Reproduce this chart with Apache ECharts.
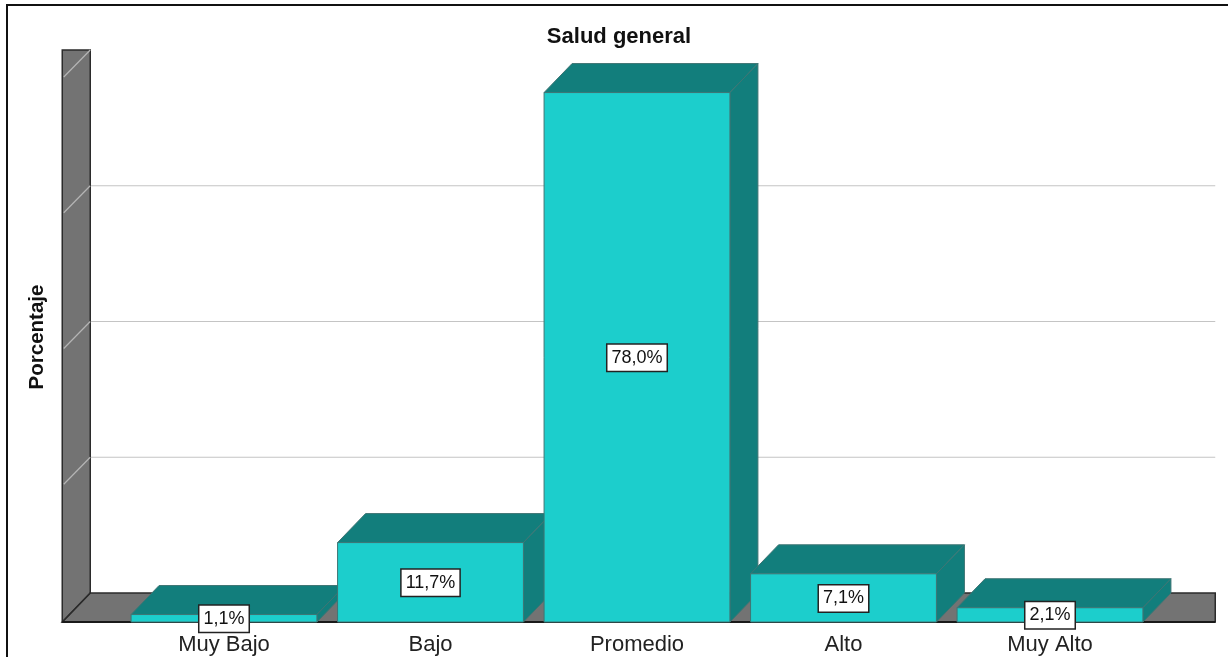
<!DOCTYPE html>
<html>
<head>
<meta charset="utf-8">
<title>Salud general</title>
<script src="https://cdn.jsdelivr.net/npm/echarts@6/dist/echarts.min.js"></script>
<style>
  html, body { margin: 0; padding: 0; background: #ffffff; }
  #chart { width: 1228px; height: 657px; }
</style>
</head>
<body>
<div id="chart"></div>
<script>
// ---- data ----
const categories = ['Muy Bajo', 'Bajo', 'Promedio', 'Alto', 'Muy Alto'];
const percentages = [1.1, 11.7, 78.0, 7.1, 2.1];
const yTicks = [0, 20, 40, 60, 80];

// ---- style ----
const FONT = '"Liberation Sans", Arial, sans-serif';
const DEPTH_X = 28;       // oblique depth of the 3D box, px
const DEPTH_Y = -29;
const BAR_RATIO = 0.9;    // bar width as a share of its category band
const FRONT = '#1ccecc';
const SHADE = '#127e7c';
const EDGE = '#3e7574';
const WALL = '#737373';
const WALL_EDGE = '#2b2b2b';
const GRID_LINE = '#c4c4c4';
const WALL_LEFT_GAP = 58.5;   // left wall front edge, left of the plot
const FLOOR_RIGHT_GAP = 62;   // floor end, right of the plot

const fmt = v => v.toFixed(1).replace('.', ',') + '%';

// wall, floor and back gridlines, positioned from the value axis
function renderBackdrop(params, api) {
  const cs = params.coordSys;
  const wallFront = cs.x - WALL_LEFT_GAP;
  const wallBack = wallFront + DEPTH_X;
  const floorRight = cs.x + cs.width + FLOOR_RIGHT_GAP;
  const base = api.coord([0, yTicks[0]])[1];
  const topBack = api.coord([0, yTicks[yTicks.length - 1]])[1] + DEPTH_Y;
  const children = [];

  // back-wall gridlines
  yTicks.slice(1, -1).forEach(t => {
    const yb = api.coord([0, t])[1] + DEPTH_Y;
    children.push({
      type: 'line',
      shape: { x1: wallBack, y1: yb, x2: floorRight, y2: yb },
      style: { stroke: GRID_LINE, lineWidth: 1.2 }
    });
  });

  // left wall
  children.push({
    type: 'rect',
    shape: { x: wallFront, y: topBack, width: DEPTH_X, height: base - topBack },
    style: { fill: WALL, stroke: WALL_EDGE, lineWidth: 1.5 }
  });
  yTicks.slice(1).forEach(t => {
    const yb = api.coord([0, t])[1] + DEPTH_Y;
    children.push({
      type: 'line',
      shape: { x1: wallBack, y1: yb, x2: wallFront + 1.5, y2: yb - DEPTH_Y - 2 },
      style: { stroke: '#b5b5b5', lineWidth: 1.2 }
    });
  });

  // floor
  children.push({
    type: 'polygon',
    shape: { points: [
      [wallFront, base], [floorRight, base],
      [floorRight, base + DEPTH_Y], [wallBack, base + DEPTH_Y]
    ] },
    style: { fill: WALL, stroke: WALL_EDGE, lineWidth: 1.5 }
  });
  children.push({
    type: 'line',
    shape: { x1: wallBack, y1: base + DEPTH_Y, x2: wallFront, y2: base },
    style: { stroke: WALL_EDGE, lineWidth: 1.2 }
  });
  children.push({
    type: 'line',
    shape: { x1: wallFront, y1: base, x2: floorRight, y2: base },
    style: { stroke: '#1a1a1a', lineWidth: 2 }
  });
  return { type: 'group', children };
}

// one oblique box per category
function renderBar(params, api) {
  const i = api.value(0);
  const v = api.value(1);
  const base = api.coord([i, 0]);
  const top = api.coord([i, v]);
  const bw = api.size([1, 0])[0] * BAR_RATIO;
  const x0 = base[0] - bw / 2;
  const x1 = base[0] + bw / 2;
  const y0 = base[1];
  const y1 = top[1];
  return {
    type: 'group',
    children: [
      {
        type: 'polygon',
        shape: { points: [[x0, y1], [x1, y1], [x1 + DEPTH_X, y1 + DEPTH_Y], [x0 + DEPTH_X, y1 + DEPTH_Y]] },
        style: { fill: SHADE, stroke: EDGE, lineWidth: 1 }
      },
      {
        type: 'polygon',
        shape: { points: [[x1, y0], [x1, y1], [x1 + DEPTH_X, y1 + DEPTH_Y], [x1 + DEPTH_X, y0 + DEPTH_Y]] },
        style: { fill: SHADE, stroke: EDGE, lineWidth: 1 }
      },
      {
        type: 'rect',
        shape: { x: x0, y: y1, width: bw, height: y0 - y1 },
        style: { fill: FRONT, stroke: EDGE, lineWidth: 1 }
      },
      {
        type: 'text',
        z2: 100,
        x: base[0],
        y: (y0 + y1) / 2 + 0.5,
        style: {
          text: fmt(v),
          fontFamily: FONT,
          fontSize: 18,
          fill: '#111111',
          align: 'center',
          verticalAlign: 'middle',
          backgroundColor: '#ffffff',
          borderColor: '#222222',
          borderWidth: 1.5,
          padding: [4, 4, 4, 4]
        }
      }
    ]
  };
}

const chart = echarts.init(document.getElementById('chart'), null, { renderer: 'canvas' });
chart.setOption({
  backgroundColor: '#ffffff',
  animation: false,
  title: {
    text: 'Salud general',
    left: 614,
    top: 21,
    textAlign: 'center',
    textStyle: { fontFamily: FONT, fontSize: 22, fontWeight: 'bold', color: '#111111' }
  },
  grid: { left: 120.75, right: 74.75, top: 79, bottom: 35, containLabel: false },
  xAxis: {
    type: 'category',
    data: categories,
    axisLine: { show: false },
    axisTick: { show: false },
    splitLine: { show: false },
    axisLabel: { fontFamily: FONT, fontSize: 22, color: '#222222', margin: 12 }
  },
  yAxis: {
    type: 'value',
    min: yTicks[0],
    max: yTicks[yTicks.length - 1],
    interval: 20,
    axisLine: { show: false },
    axisTick: { show: false },
    axisLabel: { show: false },
    splitLine: { show: false }
  },
  graphic: [
    {
      type: 'rect',
      shape: { x: 7, y: 5, width: 1240, height: 700 },
      style: { fill: 'none', stroke: '#111111', lineWidth: 2 },
      silent: true
    },
    {
      type: 'text',
      x: 37,
      y: 337,
      rotation: Math.PI / 2,
      style: {
        text: 'Porcentaje',
        fontFamily: FONT,
        fontSize: 20.5,
        fontWeight: 'bold',
        fill: '#111111',
        align: 'center',
        verticalAlign: 'middle'
      },
      silent: true
    }
  ],
  series: [
    {
      type: 'custom',
      name: 'backdrop',
      data: [[0, 0]],
      encode: { x: 0, y: 1 },
      renderItem: renderBackdrop,
      silent: true,
      z: 1
    },
    {
      type: 'custom',
      name: 'Porcentaje',
      data: percentages.map((v, i) => [i, v]),
      encode: { x: 0, y: 1 },
      renderItem: renderBar,
      z: 2
    }
  ]
});
</script>
</body>
</html>
